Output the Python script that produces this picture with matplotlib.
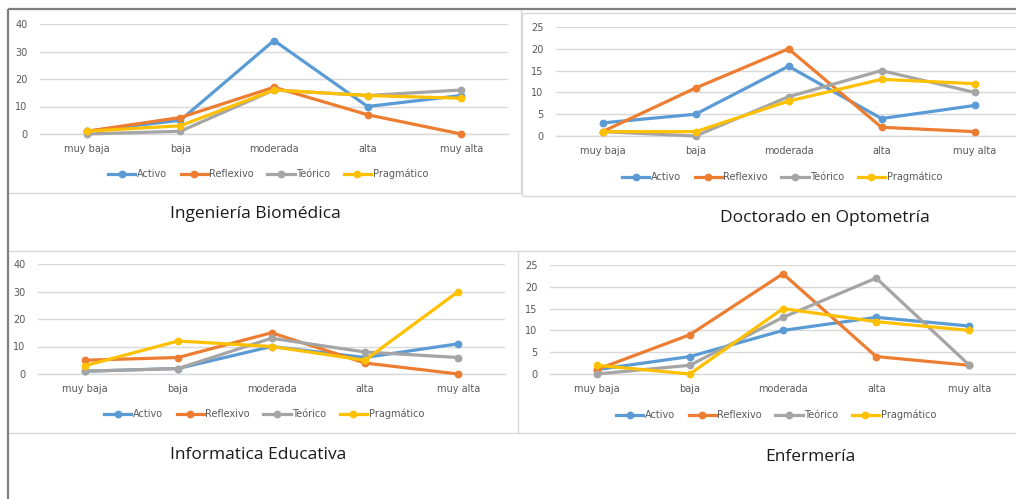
import matplotlib
matplotlib.use("Agg")
import matplotlib.pyplot as plt
from matplotlib.lines import Line2D

categories = ["muy baja", "baja", "moderada", "alta", "muy alta"]
series_names = ["Activo", "Reflexivo", "Teórico", "Pragmático"]
colors = ["#5B9BD5", "#ED7D31", "#A5A5A5", "#FFC000"]

# Ingeniería Biomédica
ib_activo = [1, 5, 34, 10, 14]
ib_reflexivo = [1, 6, 17, 7, 0]
ib_teorico = [0, 1, 16, 14, 16]
ib_pragmatico = [1, 3, 16, 14, 13]

# Doctorado en Optometría
do_activo = [3, 5, 16, 4, 7]
do_reflexivo = [1, 11, 20, 2, 1]
do_teorico = [1, 0, 9, 15, 10]
do_pragmatico = [1, 1, 8, 13, 12]

# Informatica Educativa
ie_activo = [1, 2, 10, 6, 11]
ie_reflexivo = [5, 6, 15, 4, 0]
ie_teorico = [1, 2, 13, 8, 6]
ie_pragmatico = [3, 12, 10, 5, 30]

# Enfermería
en_activo = [1, 4, 10, 13, 11]
en_reflexivo = [1, 9, 23, 4, 2]
en_teorico = [0, 2, 13, 22, 2]
en_pragmatico = [2, 0, 15, 12, 10]

titles = ["Ingeniería Biomédica", "Doctorado en Optometría",
          "Informatica Educativa", "Enfermería"]
y_max = [40, 25, 40, 25]
y_step = [10, 5, 10, 5]

W, H = 1016, 499
fig = plt.figure(figsize=(W / 100, H / 100), dpi=100)
fig.patch.set_facecolor("white")

def fx(x):
    return x / W

def fy(y):
    return 1 - y / H

def frame_line(x0, y0, x1, y1, color, lw):
    fig.add_artist(Line2D([fx(x0), fx(x1)], [fy(y0), fy(y1)],
                          transform=fig.transFigure, color=color, lw=lw,
                          solid_capstyle="butt"))

# panel boxes (light gray)
box_c = "#D9D9D9"
frame_line(521, 9, 521, 193, box_c, 1.0)
frame_line(8, 193, 521, 193, box_c, 1.0)
frame_line(522, 13, 1016, 13, box_c, 1.0)
frame_line(522, 13, 522, 196, box_c, 1.0)
frame_line(522, 196, 1016, 196, box_c, 1.0)
frame_line(8, 251, 518, 251, box_c, 1.0)
frame_line(518, 251, 518, 433, box_c, 1.0)
frame_line(518, 251, 1016, 251, box_c, 1.0)
frame_line(8, 433, 1016, 433, box_c, 1.0)
# outer dark frame
frame_line(8, 9, 1016, 9, "#7F7F7F", 1.6)
frame_line(8, 9, 8, 499, "#7F7F7F", 1.6)

# plot areas: (x_left, x_right, y_top(for ymax), y_bottom(for 0))
areas = [(40, 508, 24, 134), (556, 1021, 27, 136),
         (38, 505, 264, 374), (550, 1016, 265, 374)]
legend_pos = [(268, 174), (782, 177), (264, 414), (776, 415)]
title_pos = [(255, 214), (825, 218), (258, 455), (810, 457)]

data = [
    [ib_activo, ib_reflexivo, ib_teorico, ib_pragmatico],
    [do_activo, do_reflexivo, do_teorico, do_pragmatico],
    [ie_activo, ie_reflexivo, ie_teorico, ie_pragmatico],
    [en_activo, en_reflexivo, en_teorico, en_pragmatico],
]

tick_c = "#595959"
for i in range(4):
    x0, x1, yt, yb = areas[i]
    ax = fig.add_axes([fx(x0), fy(yb), (x1 - x0) / W, (yb - yt) / H])
    ax.set_facecolor("none")
    xs = list(range(len(categories)))
    ax.axhline(0, color="#D9D9D9", lw=1.0, zorder=1, clip_on=False)
    for name, vals, c in zip(series_names, data[i], colors):
        ax.plot(xs, vals, color=c, lw=2.3, marker="o", markersize=4.6,
                label=name, clip_on=False, zorder=3)
    ax.set_xlim(-0.5, len(categories) - 0.5)
    ax.set_ylim(0, y_max[i])
    ax.set_yticks(list(range(0, y_max[i] + 1, y_step[i])))
    ax.set_xticks(xs)
    ax.set_xticklabels(categories)
    for s in ax.spines.values():
        s.set_visible(False)
    ax.grid(axis="y", color="#D9D9D9", lw=1.0, zorder=0)
    ax.tick_params(axis="both", length=0, labelsize=7, colors=tick_c)
    ax.tick_params(axis="y", pad=9)
    ax.tick_params(axis="x", pad=7)
    lx, ly = legend_pos[i]
    ax.legend(loc="center", bbox_to_anchor=(fx(lx), fy(ly)),
              bbox_transform=fig.transFigure, ncol=4, frameon=False,
              fontsize=7, handlelength=2.8, handletextpad=0.15,
              columnspacing=1.4, labelcolor=tick_c, borderpad=0)
    tx, ty = title_pos[i]
    fig.text(fx(tx), fy(ty), titles[i], ha="center", va="center",
             fontsize=12.5, color="#1a1a1a", family="Open Sans")

fig.savefig("out.png", dpi=100, facecolor="white")
